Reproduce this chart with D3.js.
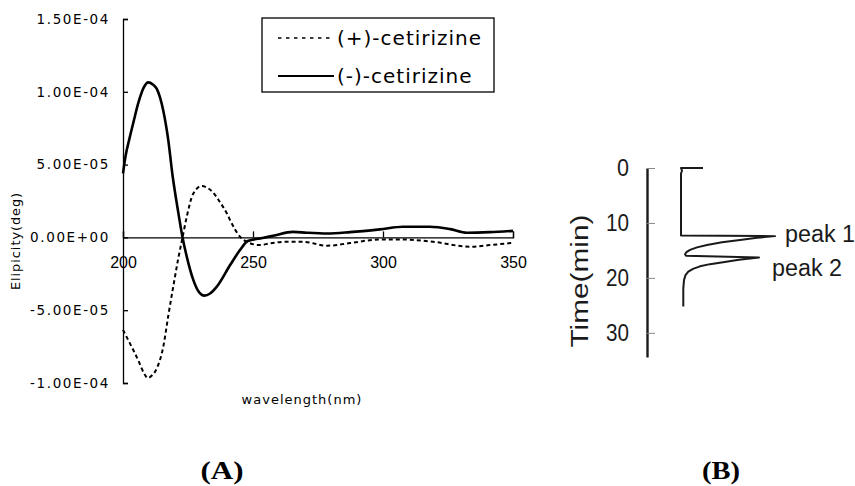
<html>
    <head>
        <script src="https://d3js.org/d3.v7.min.js" charset="utf-8"></script>
    </head>
    <style>
        body{
            margin:0;
            background:#fff;
        }
    </style>
    <body>
    </body>
    <script>
        // CD spectra, (-)-cetirizine (solid)
        const wlMinus = [200,201,202.5,204,206,208,209.7,211.5,213,215.5,217.4,219.1,221,222.9,224.5,227,229,231.3,233.5,236,241.2,245,248,252.7,257.7,265.4,270.7,278.5,287.3,298.8,307.7,318,325.8,332.3,341,350];
        const cdMinus = [4.4e-5,5.6e-5,6.8e-5,7.9e-5,9.3e-5,1.03e-4,1.065e-4,1.05e-4,1.02e-4,8.7e-5,6.7e-5,4.2e-5,2.0e-5,0,-1.3e-5,-2.9e-5,-3.7e-5,-4.0e-5,-3.85e-5,-3.4e-5,-1.9e-5,-8.7e-6,-2.5e-6,-0.7e-6,1.1e-6,3.8e-6,3.2e-6,2.7e-6,3.6e-6,5.5e-6,7.3e-6,7.3e-6,5.7e-6,3.2e-6,3.6e-6,4.5e-6];

        // (+)-cetirizine (dashed)
        const wlPlus = [200,202,204,206,208,209.6,211.3,213,215.5,217.4,219.5,221.2,222.9,224.5,227,230.3,232.5,234.6,237,239.9,242,244.2,247.6,252.7,256.5,263,269.2,278.5,287.3,298.8,306.5,319.2,333.5,341,350];
        const cdPlus = [-6.35e-5,-7.05e-5,-7.75e-5,-8.5e-5,-9.3e-5,-9.66e-5,-9.45e-5,-9.0e-5,-7.5e-5,-5.4e-5,-3.2e-5,-1.5e-5,0,1.4e-5,3.0e-5,3.53e-5,3.4e-5,3.1e-5,2.5e-5,1.66e-5,9e-6,2.3e-6,-3.0e-6,-5.3e-6,-4.1e-6,-3e-6,-3e-6,-5.7e-6,-3.9e-6,-1.4e-6,-1.4e-6,-3e-6,-6.4e-6,-5.3e-6,-3.7e-6];

        const xTicks = [200,250,300,350];
        const yTicks = [-1e-4,-5e-5,0,5e-5,1e-4,1.5e-4];
        const seriesNames = ['(+)-cetirizine','(-)-cetirizine'];

        // HPLC chromatogram (B)
        const hplcTime = [0,0,0.5,1.0,12.3,12.4,12.7,13.09,13.5,14.0,14.45,14.9,15.3,15.7,15.95,16.3,16.7,17.15,17.5,17.9,18.35,18.85,19.5,20.4,21.9,25.2];
        const hplcSignal = [56,34,35,34,34,128,110,93,75,60,50,43,39.5,38,39,112,92,76,63,53,46,41.3,38.5,37,36.3,36.3];
        const timeTicks = [0,10,20,30];
        const peakNames = ['peak 1','peak 2'];
        const peakTimes = [13.5,19.6];

        const w = 855, h = 486;

        const svg = d3.select('body')
                    .append('svg')
                    .attr('width',w)
                    .attr('height',h)
                    .style('background','#fff');

        function fmtE(v){
            if (v===0) return '0.00E+00';
            const e = Math.floor(Math.log10(Math.abs(v))+1e-9);
            const m = v/Math.pow(10,e);
            return m.toFixed(2)+'E'+(e<0?'-':'+')+String(Math.abs(e)).padStart(2,'0');
        }

        // ---------- panel A ----------
        const x = d3.scaleLinear().domain([200,350]).range([123,513]);
        const y = d3.scaleLinear().domain([-1e-4,1.5e-4]).range([383,19]);

        const yAxis = svg.append('g')
                    .attr('transform','translate(123,0)')
                    .call(d3.axisLeft(y).tickValues(yTicks).tickSize(-5).tickSizeOuter(-5).tickPadding(13).tickFormat(fmtE));
        yAxis.selectAll('text')
                    .style('font-family','DejaVu Sans')
                    .style('font-size','13.5px')
                    .style('letter-spacing','1.6px')
                    .attr('fill','#000');

        const xAxis = svg.append('g')
                    .attr('transform','translate(0,'+y(0)+')')
                    .call(d3.axisBottom(x).tickValues(xTicks).tickSize(-6).tickSizeOuter(-6).tickPadding(19));
        xAxis.selectAll('text')
                    .style('font-family','Liberation Sans')
                    .style('font-size','16px')
                    .attr('fill','#000');

        svg.selectAll('.domain, .tick line').attr('stroke','#000').attr('stroke-width',1.3);

        const line = d3.line().x(d=>x(d[0])).y(d=>y(d[1])).curve(d3.curveMonotoneX);

        svg.append('path')
                    .datum(d3.zip(wlPlus,cdPlus))
                    .attr('d',line)
                    .attr('fill','none')
                    .attr('stroke','#000')
                    .attr('stroke-width',2)
                    .attr('stroke-dasharray','4,3');

        svg.append('path')
                    .datum(d3.zip(wlMinus,cdMinus))
                    .attr('d',line)
                    .attr('fill','none')
                    .attr('stroke','#000')
                    .attr('stroke-width',2.6);

        svg.append('text')
                    .attr('transform','translate(19.5,241) rotate(-90)')
                    .attr('text-anchor','middle')
                    .style('font-family','DejaVu Sans')
                    .style('font-size','12.8px')
                    .style('letter-spacing','1px')
                    .text('Elipicity(deg)');

        svg.append('text')
                    .attr('x',302)
                    .attr('y',404)
                    .attr('text-anchor','middle')
                    .style('font-family','DejaVu Sans')
                    .style('font-size','13px')
                    .style('letter-spacing','1px')
                    .text('wavelength(nm)');

        // legend
        const legend = svg.append('g').attr('id','legend');
        legend.append('rect')
                    .attr('x',262).attr('y',18)
                    .attr('width',232).attr('height',74)
                    .attr('fill','#fff')
                    .attr('stroke','#000')
                    .attr('stroke-width',1.3);

        const rows = legend.selectAll('.row')
                    .data(seriesNames)
                    .enter()
                    .append('g')
                    .attr('transform',(d,i)=>'translate(0,'+(38+i*38)+')');
        rows.append('line')
                    .attr('x1',278).attr('x2',334)
                    .attr('stroke','#000')
                    .attr('stroke-width',(d,i)=>i?2.2:1.6)
                    .attr('stroke-dasharray',(d,i)=>i?null:'3.5,4.5');
        rows.append('text')
                    .attr('x',337)
                    .attr('y',7)
                    .style('font-family','DejaVu Sans')
                    .style('font-size','20px')
                    .style('letter-spacing','1px')
                    .text(d=>d);

        svg.append('text')
                    .attr('x',222).attr('y',479)
                    .attr('text-anchor','middle')
                    .attr('textLength',43).attr('lengthAdjust','spacingAndGlyphs')
                    .style('font-family','Liberation Serif')
                    .style('font-weight','bold')
                    .style('font-size','25px')
                    .text('(A)');

        // ---------- panel B ----------
        const t = d3.scaleLinear().domain([0,34.4]).range([168,357]);
        const r = d3.scaleLinear().domain([0,100]).range([647,747]);

        const tAxis = svg.append('g')
                    .attr('transform','translate(647,0)')
                    .call(d3.axisLeft(t).tickValues(timeTicks).tickSize(-8).tickSizeOuter(0).tickPadding(18));
        tAxis.select('.domain').attr('stroke','#1a1a1a').attr('stroke-width',2.4);
        tAxis.selectAll('.tick line').attr('stroke','#888').attr('stroke-width',1);
        tAxis.selectAll('text')
                    .style('font-family','Liberation Sans')
                    .style('font-size','24px')
                    .attr('fill','#1a1a1a')
                    .attr('textLength',d=>d<10?12:23)
                    .attr('lengthAdjust','spacingAndGlyphs');

        const trace = d3.line().x(d=>r(d[1])).y(d=>t(d[0]));
        svg.append('path')
                    .datum(d3.zip(hplcTime,hplcSignal))
                    .attr('d',trace)
                    .attr('fill','none')
                    .attr('stroke','#1a1a1a')
                    .attr('stroke-width',2)
                    .attr('stroke-linejoin','round');

        svg.append('text')
                    .attr('transform','translate(588,281) rotate(-90)')
                    .attr('text-anchor','middle')
                    .attr('textLength',133).attr('lengthAdjust','spacingAndGlyphs')
                    .style('font-family','Liberation Sans')
                    .style('font-size','23px')
                    .attr('fill','#1a1a1a')
                    .text('Time(min)');

        svg.selectAll('.peak')
                    .data(peakNames)
                    .enter()
                    .append('text')
                    .attr('x',(d,i)=>i?772:785)
                    .attr('y',(d,i)=>t(peakTimes[i]))
                    .attr('textLength',70).attr('lengthAdjust','spacingAndGlyphs')
                    .style('font-family','Liberation Sans')
                    .style('font-size','23px')
                    .attr('fill','#1a1a1a')
                    .text(d=>d);

        svg.append('text')
                    .attr('x',721).attr('y',479)
                    .attr('text-anchor','middle')
                    .attr('textLength',38).attr('lengthAdjust','spacingAndGlyphs')
                    .style('font-family','Liberation Serif')
                    .style('font-weight','bold')
                    .style('font-size','25px')
                    .text('(B)');
    </script>
</html>
